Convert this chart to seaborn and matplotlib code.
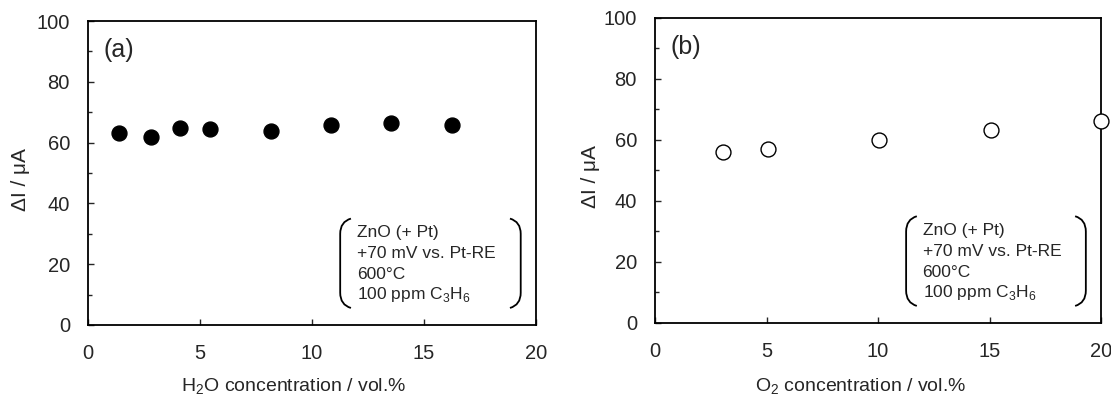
import matplotlib
matplotlib.use("Agg")
import matplotlib.pyplot as plt
from matplotlib.path import Path
from matplotlib.patches import PathPatch
from matplotlib.ticker import MultipleLocator
import pandas as pd
import seaborn as sns

sns.set_style("ticks")
plt.rcParams['font.family'] = ['Liberation Sans', 'DejaVu Sans']
plt.rcParams['mathtext.fontset'] = 'custom'
plt.rcParams['mathtext.rm'] = 'Liberation Sans'

# (a) H2O dependence
h2o_conc = [1.4, 2.8, 4.1, 5.45, 8.15, 10.85, 13.55, 16.25]
h2o_di = [63.3, 61.8, 64.7, 64.4, 63.9, 65.8, 66.4, 65.8]

# (b) O2 dependence
o2_conc = [3.05, 5.05, 10.05, 15.05, 20.0]
o2_di = [56.2, 57.0, 60.1, 63.2, 66.3]

info_lines = ["ZnO (+ Pt)", "+70 mV vs. Pt-RE", "600\u00b0C",
              "100 ppm C$_{\\mathregular{3}}$H$_{\\mathregular{6}}$"]

df_a = pd.DataFrame({"x": h2o_conc, "y": h2o_di})
df_b = pd.DataFrame({"x": o2_conc, "y": o2_di})

fig = plt.figure(figsize=(11.11, 3.97), dpi=100)
ax_a = fig.add_axes([0.0792, 0.1814, 0.4032, 0.7657])
ax_b = fig.add_axes([0.5896, 0.1864, 0.4014, 0.7683])


def bracket(ax, x0, x1, y0, y1, left=True):
    # curved bracket drawn in axes coords
    if left:
        verts = [(x1, y1), (x0, y1 - 0.01), (x0, y1 - 0.05),
                 (x0, y0 + 0.05), (x0, y0 + 0.01), (x1, y0)]
    else:
        verts = [(x0, y1), (x1, y1 - 0.01), (x1, y1 - 0.05),
                 (x1, y0 + 0.05), (x1, y0 + 0.01), (x0, y0)]
    codes = [Path.MOVETO, Path.CURVE3, Path.CURVE3,
             Path.LINETO, Path.CURVE3, Path.CURVE3]
    ax.add_patch(PathPatch(Path(verts, codes), fill=False, lw=1.3,
                           ec="black", transform=ax.transAxes, clip_on=False))


def style(ax, xlabel, letter, lx, xl_y):
    ax.set_xlim(0, 20)
    ax.set_ylim(0, 100)
    ax.xaxis.set_major_locator(MultipleLocator(5))
    ax.yaxis.set_major_locator(MultipleLocator(20))
    ax.yaxis.set_minor_locator(MultipleLocator(10))
    ax.tick_params(which="both", direction="in", width=1.0,
                   labelsize=14.5, top=False, right=False)
    ax.tick_params(axis="y", pad=13)
    ax.tick_params(axis="x", pad=14)
    ax.tick_params(which="major", length=4)
    ax.tick_params(which="minor", length=3)
    for s in ax.spines.values():
        s.set_linewidth(1.3)
        s.set_color("black")
        s.set_visible(True)
    ax.set_xlabel(xlabel, fontsize=14)
    ax.set_ylabel("\u0394I / \u03bcA", fontsize=15)
    ax.xaxis.set_label_coords(0.46, xl_y)
    ax.yaxis.set_label_coords(lx, 0.48)
    ax.text(0.035, 0.905, letter, transform=ax.transAxes, fontsize=18,
            va="center", ha="left")
    for i, line in enumerate(info_lines):
        ax.text(0.60, 0.303 - i * 0.068, line, transform=ax.transAxes,
                fontsize=12.5, va="center", ha="left")
    bracket(ax, 0.563, 0.587, 0.056, 0.35, left=True)
    bracket(ax, 0.942, 0.966, 0.056, 0.35, left=False)


sns.scatterplot(data=df_a, x="x", y="y", ax=ax_a, s=115, color="black",
                edgecolor="black", linewidth=1, clip_on=False)
sns.scatterplot(data=df_b, x="x", y="y", ax=ax_b, s=115, facecolor="white",
                edgecolor="black", linewidth=1, clip_on=False, zorder=5)

style(ax_a, "H$_{\\mathregular{2}}$O concentration / vol.%", "(a)", -0.13, -0.17)
style(ax_b, "O$_{\\mathregular{2}}$ concentration / vol.%", "(b)", -0.123, -0.177)

fig.savefig("out.png", dpi=100)
